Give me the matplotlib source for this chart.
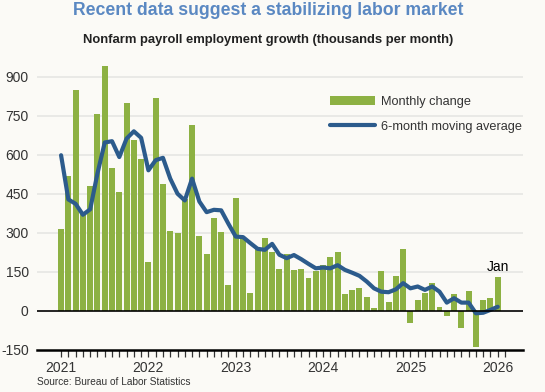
import numpy as np
import matplotlib.pyplot as plt
from matplotlib.ticker import FixedLocator

# Nonfarm payroll employment, Jan 2021 - Jan 2026 (thousands per month)
monthly_change = [315, 520, 850, 370, 478, 755, 940, 550, 455, 800,
                  656, 585, 189, 819, 489, 306, 298, 430, 714, 287,
                  219, 355, 301, 98, 433, 275, 67, 236, 278, 224,
                  161, 218, 157, 159, 127, 154, 174, 207, 227, 64,
                  78, 87, 53, 10, 154, 33, 134, 238, -46, 41,
                  69, 108, 13, -19, 64, -68, 76, -139, 41, 49, 130]

moving_avg = [598, 428, 411, 369, 390, 528, 647, 652, 591, 662,
              690, 665, 540, 579, 588, 508, 450, 424, 508, 420,
              379, 388, 386, 334, 285, 283, 260, 238, 234, 257,
              215, 202, 214, 198, 180, 163, 166, 163, 175, 157,
              146, 134, 112, 86, 73, 71, 82, 106, 86, 93,
              80, 93, 73, 31, 48, 31, 31, -10, -8, 3, 15]

years = ['2021', '2022', '2023', '2024', '2025', '2026']
y_ticks = [-150, 0, 150, 300, 450, 600, 750, 900]

bg = '#fbfaf6'
green = '#8db143'
blue = '#2c5b8c'

plt.rcParams['font.family'] = ['Liberation Sans', 'DejaVu Sans']

fig = plt.figure(figsize=(5.45, 3.92), dpi=100, facecolor=bg)
ax = fig.add_axes([0.068, 0.108, 0.892, 0.746], facecolor=bg)

x = np.arange(len(monthly_change))
bars = ax.bar(x, monthly_change, width=0.82, color=green, zorder=2,
              label='Monthly change')
line, = ax.plot(x, moving_avg, color=blue, lw=3, zorder=3,
                solid_capstyle='round', label='6-month moving average')

ax.set_xlim(-3.3, 63.5)
ax.set_ylim(-150, 975)

# gridlines and zero line
for v in y_ticks[2:]:
    ax.axhline(v, color='#e6e6e3', lw=1.2, zorder=1)
ax.axhline(0, color='black', lw=1.2, zorder=4)

for s in ['top', 'right', 'left']:
    ax.spines[s].set_visible(False)
ax.spines['bottom'].set_linewidth(1.8)
ax.spines['bottom'].set_zorder(5)

ax.set_yticks(y_ticks)
ax.set_yticklabels([str(v) for v in y_ticks])
ax.tick_params(axis='y', length=0, pad=6, labelsize=10, labelcolor='#333333')

ax.set_xticks(np.arange(0, len(x), 12))
ax.set_xticklabels(years)
ax.xaxis.set_minor_locator(FixedLocator(np.arange(0, len(x) + 1)))
ax.tick_params(axis='x', which='major', length=5, width=0.9, pad=3,
               labelsize=10, labelcolor='#333333', color='#333333')
ax.tick_params(axis='x', which='minor', length=5, width=0.9, color='#333333')

ax.text(60, 142, 'Jan', ha='center', va='bottom', fontsize=10, color='black')

ax.legend(handles=[bars, line], loc='upper left',
          bbox_to_anchor=(330 / 545, 1 - 96 / 392), bbox_transform=fig.transFigure,
          frameon=False, fontsize=9.2, handlelength=3.5, handletextpad=0.5,
          labelspacing=1.0, borderpad=0, borderaxespad=0, labelcolor='#333333')

fig.text(0.492, 0.972, 'Recent data suggest a stabilizing labor market',
         ha='center', va='center', fontsize=12.7, fontweight='bold', color='#5a88c2')
fig.text(0.492, 0.898, 'Nonfarm payroll employment growth (thousands per month)',
         ha='center', va='center', fontsize=9.4, fontweight='bold', color='#222222')
fig.text(0.068, 0.026, 'Source: Bureau of Labor Statistics',
         ha='left', va='center', fontsize=7.3, color='#333333')

fig.savefig('out.png', dpi=100, facecolor=bg)
